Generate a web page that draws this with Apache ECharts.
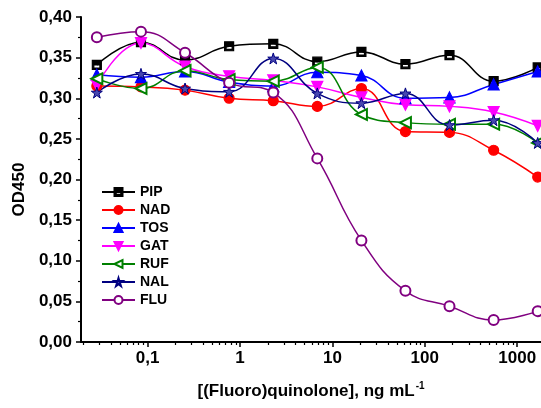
<!DOCTYPE html>
<html>
<head>
<meta charset="utf-8">
<script src="https://cdn.jsdelivr.net/npm/echarts@6/dist/echarts.min.js"></script>
<style>
html, body { margin: 0; padding: 0; background: #fff; }
#chart { width: 541px; height: 408px; }
</style>
</head>
<body>
<div id="chart"></div>
<script>
// concentrations (ng/mL), 3-fold dilutions
var conc = [0.0282, 0.0847, 0.254, 0.762, 2.29, 6.86, 20.6, 61.7, 185, 556, 1667];

// OD450 per compound
var pip = [0.341, 0.369, 0.347, 0.364, 0.367, 0.345, 0.357, 0.342, 0.353, 0.321, 0.338];
var nad = [0.315, 0.314, 0.310, 0.300, 0.297, 0.290, 0.312, 0.259, 0.258, 0.236, 0.203];
var tos = [0.329, 0.326, 0.333, 0.320, 0.315, 0.332, 0.328, 0.300, 0.301, 0.317, 0.333];
var gat = [0.316, 0.368, 0.339, 0.327, 0.322, 0.314, 0.301, 0.292, 0.290, 0.283, 0.266];
var ruf = [0.324, 0.312, 0.334, 0.323, 0.321, 0.338, 0.280, 0.270, 0.268, 0.268, 0.245];
var nal = [0.307, 0.330, 0.312, 0.308, 0.349, 0.306, 0.294, 0.306, 0.267, 0.273, 0.245];
var flu = [0.375, 0.382, 0.356, 0.319, 0.307, 0.226, 0.125, 0.063, 0.044, 0.027, 0.038];

var xLabels = [0.1, 1, 10, 100, 1000];

var FONT = '"Liberation Sans", Arial, sans-serif';

// minor ticks 2..9 of each decade
var minorTicks = [];
[0.01, 0.1, 1, 10, 100, 1000].forEach(function (d) {
	for (var k = 2; k <= 9; k++) {
		var v = +(d * k).toPrecision(3);
		if (v > 0.019 && v < 1810) minorTicks.push(v);
	}
});

var halfSquare = 'path://M0,0H10V10H0Z M1.6,5V8.4H8.4V5Z';
var star = 'path://M5,0L6.18,3.62L10,3.62L6.91,5.86L8.09,9.51L5,7.27L1.91,9.51L3.09,5.86L0,3.62L3.82,3.62Z';

function pairs(vals) {
	return conc.map(function (c, i) { return [c, vals[i]]; });
}

function line(name, vals, color, symbol, size, extra) {
	var s = {
		name: name,
		type: 'line',
		data: pairs(vals),
		smooth: 0.45,
		symbol: symbol,
		symbolSize: size,
		color: color,
		lineStyle: { color: color, width: 1.5 },
		itemStyle: { color: color, borderColor: color, borderWidth: 1.2 },
		emphasis: { disabled: true },
		animation: false
	};
	for (var k in extra) s[k] = extra[k];
	return s;
}

var series = [
	line('PIP', pip, '#000000', halfSquare, 9, {}),
	line('NAD', nad, '#ff0000', 'circle', 10, {}),
	line('TOS', tos, '#0000ff', 'triangle', 11, {}),
	line('GAT', gat, '#ff00ff', 'triangle', 11, { symbolRotate: 180 }),
	line('RUF', ruf, '#008000', 'emptyTriangle', 11, { symbolRotate: 90 }),
	line('NAL', nal, '#000080', star, 11, {}),
	line('FLU', flu, '#800080', 'emptyCircle', 10, {})
];
series[5].itemStyle = { color: '#4848b0', borderColor: '#000080', borderWidth: 1 };

var chart = echarts.init(document.getElementById('chart'));
chart.setOption({
	backgroundColor: '#fff',
	animation: false,
	textStyle: { fontFamily: FONT },
	grid: { left: 81, right: 0, top: 17, bottom: 66, containLabel: false },
	legend: {
		orient: 'vertical',
		left: 101,
		top: 185,
		padding: 0,
		itemWidth: 33,
		itemHeight: 10,
		itemGap: 4,
		textStyle: { fontSize: 14, fontWeight: 'bold', color: '#000', lineHeight: 14, fontFamily: FONT },
		data: ['PIP', 'NAD', 'TOS', 'GAT', 'RUF', 'NAL', 'FLU']
	},
	xAxis: [{
		type: 'log',
		min: 0.019,
		max: 1810,
		position: 'bottom',
		name: '{a|[(Fluoro)quinolone], ng mL}{s|-1}',
		nameLocation: 'middle',
		nameGap: 38,
		nameTextStyle: {
			rich: {
				a: { fontSize: 17, fontWeight: 'bold', color: '#000', fontFamily: FONT, verticalAlign: 'bottom', lineHeight: 20 },
				s: { fontSize: 10, fontWeight: 'bold', color: '#000', fontFamily: FONT, verticalAlign: 'bottom', lineHeight: 20, padding: [0, 0, 9, 1] }
			}
		},
		axisLine: { show: true, lineStyle: { color: '#000', width: 2 } },
		axisTick: { show: true, customValues: xLabels, length: 5, lineStyle: { color: '#000', width: 1.5 } },
		axisLabel: {
			customValues: xLabels,
			margin: 8,
			fontSize: 17,
			fontWeight: 'bold',
			color: '#000',
			fontFamily: FONT,
			formatter: function (v) { return String(+v.toPrecision(3)).replace('.', ','); }
		},
		splitLine: { show: false }
	}, {
		type: 'log',
		min: 0.019,
		max: 1810,
		position: 'bottom',
		offset: 0,
		axisLine: { show: false },
		axisTick: { show: true, customValues: minorTicks, length: 3, lineStyle: { color: '#000', width: 1.2 } },
		axisLabel: { show: false },
		splitLine: { show: false }
	}],
	yAxis: {
		type: 'value',
		min: 0,
		max: 0.4,
		interval: 0.05,
		name: 'OD450',
		nameLocation: 'middle',
		nameGap: 53,
		nameTextStyle: { fontSize: 17, fontWeight: 'bold', color: '#000', fontFamily: FONT, padding: [0, 20, 0, 0] },
		axisLine: { show: true, lineStyle: { color: '#000', width: 2 } },
		axisTick: { show: true, length: 5, lineStyle: { color: '#000', width: 1.5 } },
		minorTick: { show: true, splitNumber: 2, length: 3, lineStyle: { color: '#000', width: 1.2 } },
		axisLabel: {
			margin: 9,
			fontSize: 17,
			fontWeight: 'bold',
			color: '#000',
			fontFamily: FONT,
			formatter: function (v) { return v.toFixed(2).replace('.', ','); }
		},
		splitLine: { show: false }
	},
	series: series
});
</script>
</body>
</html>
